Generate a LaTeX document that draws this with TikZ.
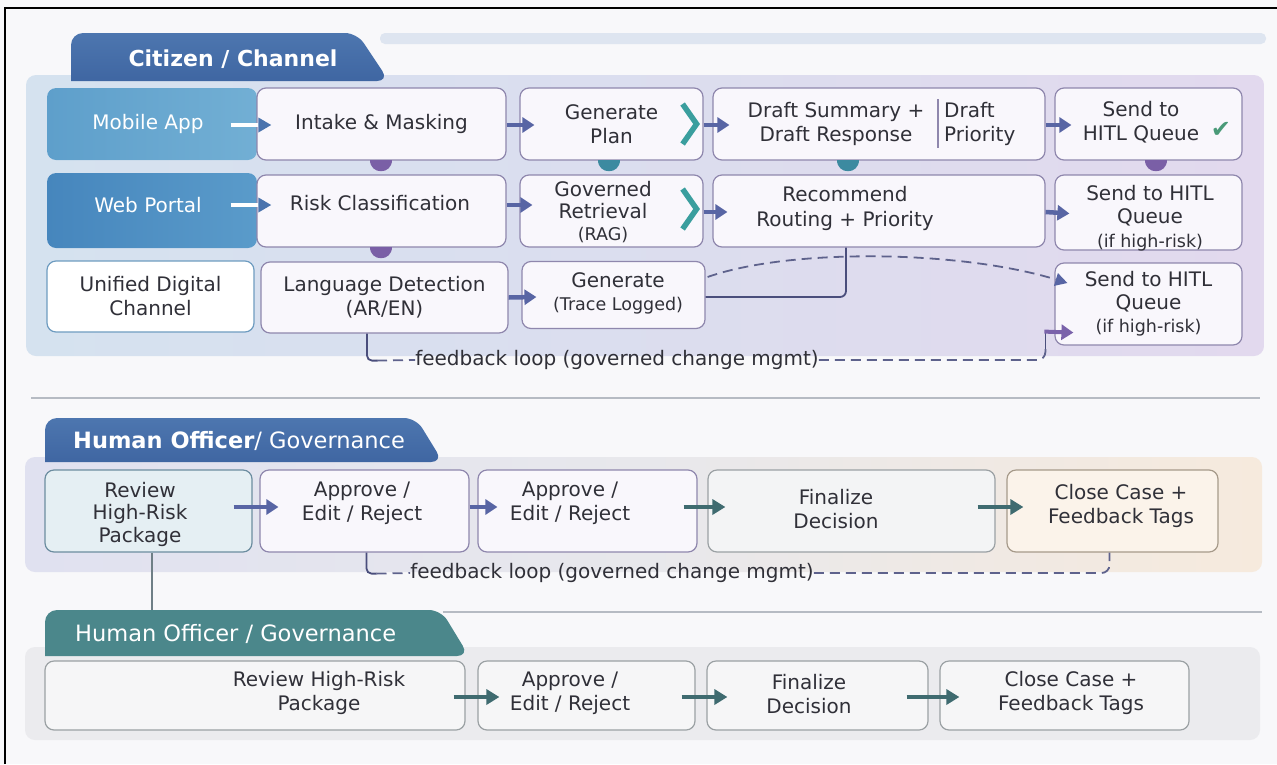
\documentclass[tikz,border=0pt]{standalone}
\usepackage{fontspec}
\setmainfont{DejaVu Sans}
\usetikzlibrary{arrows.meta,calc}
\definecolor{bgc}{HTML}{F8F8FA}
\definecolor{tabA}{HTML}{4D76AF}
\definecolor{tabB}{HTML}{3F66A2}
\definecolor{stripe}{HTML}{DEE5F0}
\definecolor{panAL}{HTML}{D5E2EF}
\definecolor{panAR}{HTML}{E2D9EE}
\definecolor{mobL}{HTML}{5E9FCB}
\definecolor{mobR}{HTML}{72AFD4}
\definecolor{webL}{HTML}{4686BD}
\definecolor{webR}{HTML}{5A9BCA}
\definecolor{boxf}{HTML}{F9F7FC}
\definecolor{boxb}{HTML}{8F87AD}
\definecolor{txt}{HTML}{303038}
\definecolor{arrc}{HTML}{5865A4}
\definecolor{arrb}{HTML}{4A74AE}
\definecolor{chev}{HTML}{3A9E9E}
\definecolor{dotp}{HTML}{7A5FA6}
\definecolor{dott}{HTML}{3C8AA0}
\definecolor{conn}{HTML}{4A4E7C}
\definecolor{dashc}{HTML}{5E628C}
\definecolor{parrc}{HTML}{7A62AA}
\definecolor{chk}{HTML}{4A9A78}
\definecolor{sep}{HTML}{B6BBC3}
\definecolor{panBL}{HTML}{E0E1F0}
\definecolor{panBM}{HTML}{E8E8EC}
\definecolor{panBR}{HTML}{F6EADD}
\definecolor{revf}{HTML}{E5EFF3}
\definecolor{revb}{HTML}{6C8DA0}
\definecolor{finf}{HTML}{F3F4F5}
\definecolor{closef}{HTML}{FBF3EA}
\definecolor{closeb}{HTML}{A69A8A}
\definecolor{tealarr}{HTML}{3F6B70}
\definecolor{tabC}{HTML}{4B878B}
\definecolor{panC}{HTML}{EBEBEE}
\definecolor{boxf3}{HTML}{F6F6F7}
\definecolor{boxb3}{HTML}{9BA1A4}
\definecolor{udcb}{HTML}{6E9CC0}
\definecolor{vline}{HTML}{6F7F86}
\newcommand{\fsz}{\fontsize{20}{24}\selectfont}
\newcommand{\fsm}{\fontsize{17.5}{21}\selectfont}
\newcommand{\fst}{\fontsize{22.5}{26}\selectfont}
\begin{document}
\begin{tikzpicture}[x=1pt,y=-1pt,
  wh/.style 2 args={minimum width=#1pt, minimum height=#2pt},
  bx/.style={draw=boxb, fill=boxf, rounded corners=9pt, line width=1.2pt, inner sep=0pt, align=center, font=\fsz, text=txt},
  tx/.style={inner sep=0pt, align=center, font=\fsz, text=txt},
  arr/.style={draw=arrc, line width=4.5pt, -{Triangle[length=12pt,width=15pt]}},
  arrT/.style={draw=tealarr, line width=4pt, -{Triangle[length=13pt,width=15pt]}},
  parr/.style={draw=parrc, line width=4pt, -{Triangle[length=12pt,width=15pt]}},
  fbs/.style={draw=conn, line width=1.8pt},
  fbd/.style={draw=dashc, line width=1.8pt, dash pattern=on 10pt off 6pt},
  chv/.style={draw=chev, line width=5.5pt, miter limit=4},
  tabtext/.style={inner sep=0pt, text=white, font=\fst}
]
\useasboundingbox (0,0) rectangle (1277,764);
\fill[bgc] (0,0) rectangle (1277,764);
\draw[black, line width=2.5pt] (5,764) -- (5,8) -- (1277,8);

% ================= Section 1 =================
\shade[left color=panAL, right color=panAR, rounded corners=10pt] (26,75) rectangle (1264,356);
\fill[stripe, rounded corners=5pt] (380,33) rectangle (1266,44);
\shade[top color=tabA, bottom color=tabB] (71,81) {[rounded corners=12pt] -- (71,33) -- (357,33) -- (389,81)} -- cycle;
\node[tabtext, font=\bfseries\fontsize{22}{26}\selectfont] (t1) at (233,59) {Citizen / Channel};

% row 1
\node[bx, wh={210}{72}, draw=none, left color=mobL, right color=mobR, text=white] (mob) at (152,124) {Mobile App\hspace*{8pt}};
\node[bx, wh={249}{72}] (intake) at (381.5,124) {Intake \& Masking};
\node[bx, wh={183}{72}] (gplan) at (611.5,124) {Generate\\Plan};
\node[bx, wh={332}{72}] (draft) at (879,124) {};
\node[tx] (draftL) at (836,124) {Draft Summary +\\Draft Response};
\node[tx, align=left, anchor=west] (draftR) at (944,124) {Draft\\Priority};
\draw[draw=boxb, line width=1.2pt] ($(draft.north)+(59,12)$) -- ($(draft.south)+(59,-13)$);
\node[bx, wh={187}{72}] (send1) at (1148.5,124) {};
\node[tx] (send1t) at (1141,122) {Send to\\HITL Queue};
\node[inner sep=0pt, text=chk, font=\fontsize{24}{24}\selectfont] (chk) at (1221,130) {✔};

% row 2
\node[bx, wh={210}{75}, draw=none, left color=webL, right color=webR] (web) at (152,210.5) {};
\node[tx, text=white] (webt) at (148,205) {Web Portal};
\node[bx, wh={249}{72}] (risk) at (381.5,211) {};
\node[tx] (riskt) at (380,203) {Risk Classification};
\node[bx, wh={183}{72}] (gret) at (611.5,211) {};
\node[tx, font=\fontsize{20}{22}\selectfont] (grett) at (603,212) {Governed\\Retrieval\\{\fsm (RAG)}};
\node[bx, wh={332}{72}] (rec) at (879,211) {};
\node[tx, font=\fontsize{20}{25}\selectfont] (rect) at (845,208) {Recommend\\Routing + Priority};
\node[bx, wh={187}{75}] (send2) at (1148.5,212.5) {};
\node[tx, font=\fontsize{20}{23.5}\selectfont] (send2t) at (1150,218) {Send to HITL\\Queue\\{\fsm (if high-risk)}};

% row 3
\node[bx, wh={207}{71}, fill=white, draw=udcb] (udc) at (150.5,296.5) {Unified Digital\\Channel};
\node[bx, wh={247}{71}] (lang) at (384.5,297.5) {Language Detection\\(AR/EN)};
\node[bx, wh={183}{67}] (gen) at (613.5,295) {};
\node[tx, font=\fontsize{20}{23}\selectfont] (gent) at (618,293) {Generate\\{\fsm (Trace Logged)}};
\node[bx, wh={187}{82}, font=\fontsize{20}{23}\selectfont] (send3) at (1148.5,304) {Send to HITL\\Queue\\{\fsm (if high-risk)}};

% chevrons
\draw[chv] ($(gplan.east)+(-21,-20)$) -- ($(gplan.east)+(-7,0)$) -- ($(gplan.east)+(-21,20)$);
\draw[chv] ($(gret.east)+(-21,-22)$) -- ($(gret.east)+(-7,-2)$) -- ($(gret.east)+(-21,18)$);

% drop dots
\fill[dotp] ($(intake.south)+(-12,-1)$) .. controls +(0,15) and +(0,15) .. ($(intake.south)+(10,-1)$) -- cycle;
\fill[dott] ($(gplan.south)+(-14,-1)$) .. controls +(0,15) and +(0,15) .. ($(gplan.south)+(8,-1)$) -- cycle;
\fill[dott] ($(draft.south)+(-42,-1)$) .. controls +(0,15) and +(0,15) .. ($(draft.south)+(-20,-1)$) -- cycle;
\fill[dotp] ($(send1.south)+(-4,-1)$) .. controls +(0,15) and +(0,15) .. ($(send1.south)+(18,-1)$) -- cycle;
\fill[dotp] ($(risk.south)+(-12,-1)$) .. controls +(0,15) and +(0,15) .. ($(risk.south)+(10,-1)$) -- cycle;

% arrows row 1-3
\draw[line width=3.5pt, white, -{Triangle[length=13pt,width=14pt,color=arrb]}] ($(mob.east)+(-27,1)$) -- ($(intake.west)+(15,1)$);
\draw[line width=3.5pt, white, -{Triangle[length=13pt,width=14pt,color=arrb]}] ($(web.east)+(-27,-5.5)$) -- ($(risk.west)+(15,-6)$);
\draw[arr] ($(intake.east)+(0,1)$) -- ($(gplan.west)+(15,1)$);
\draw[arr] ($(gplan.east)+(0,1)$) -- ($(draft.west)+(17,1)$);
\draw[arr] ($(draft.east)+(0,1)$) -- ($(send1.west)+(17,1)$);
\draw[arr] ($(risk.east)+(0,-6)$) -- ($(gret.west)+(13,-6)$);
\draw[arr] ($(gret.east)+(0,1)$) -- ($(rec.west)+(15,1)$);
\draw[arr] ($(rec.east)+(0,1)$) -- ($(send2.west)+(15,1)$);
\draw[arr] ($(lang.east)+(0,0)$) -- ($(gen.west)+(15,2)$);

% gen -> rec connector and dashed curve
\draw[draw=conn, line width=1.8pt, rounded corners=6pt] ($(gen.east)+(0,2)$) -| ($(rec.south)+(-33,0)$);
\draw[fbd, -{Triangle[length=12pt,width=13pt,color=arrc]}] ($(gen.east)+(2,-18)$) .. controls (790,248) and (960,250) .. ($(send3.west)+(13,-21)$);

% feedback loop 1
\coordinate (f1a) at ($(lang.south)+(-7.5,27)$);
\draw[fbs, rounded corners=5pt] ($(lang.south)+(-17.5,0)$) |- (f1a);
\node[tx] (fb1) at (617,360) {feedback loop (governed change mgmt)};
\draw[fbd] (f1a) -- (fb1.west);
\coordinate (f1b) at ($(send3.south west)+(-9,3)$);
\coordinate (f1c) at ($(send3.south west)+(-9,-15)$);
\draw[fbd, rounded corners=8pt] (fb1.east) -| (f1b);
\draw[fbs] (f1b) -- (f1c);
\draw[parr] ($(f1c)+(-1,1)$) -- ($(send3.south west)+(19,-13)$);

% separator
\draw[sep, line width=1.5pt] (31,398) -- (1260,398);

% ================= Section 2 =================
\shade[left color=panBL, right color=panBR, middle color=panBM, rounded corners=10pt] (25,457) rectangle (1262,572);
\shade[top color=tabA, bottom color=tabB] (45,462) {[rounded corners=12pt] -- (45,418) -- (416,418) -- (443,462)} -- cycle;
\node[tabtext, anchor=west] (t2) at (73,441) {\textbf{Human Officer}/ Governance};

\node[bx, wh={207}{82}, fill=revf, draw=revb] (rev2) at (148.5,511) {};
\node[tx, font=\fontsize{20}{22.5}\selectfont] (rev2t) at (140,514) {Review\\High-Risk\\Package};
\node[bx, wh={209}{82}] (app1) at (364.5,511) {};
\node[tx] (app1t) at (362,503) {Approve /\\Edit / Reject};
\node[bx, wh={219}{82}] (app2) at (587.5,511) {};
\node[tx] (app2t) at (570,503) {Approve /\\Edit / Reject};
\node[bx, wh={287}{82}, fill=finf, draw=boxb3] (fin2) at (851.5,511) {};
\node[tx] (fin2t) at (836,509) {Finalize\\Decision};
\node[bx, wh={211}{82}, fill=closef, draw=closeb] (close2) at (1112.5,511) {};
\node[tx] (close2t) at (1121,506) {Close Case +\\Feedback Tags};

\draw[arr] ($(rev2.east)+(-19,-4)$) -- ($(app1.west)+(19,-4)$);
\draw[arr] ($(app1.east)+(0,-4)$) -- ($(app2.west)+(20,-4)$);
\draw[arrT] ($(app2.east)+(-14,-4)$) -- ($(fin2.west)+(18,-4)$);
\draw[arrT] ($(fin2.east)+(-18,-4)$) -- ($(close2.west)+(17,-4)$);

% feedback loop 2
\coordinate (f2a) at ($(app1.south)+(12,21)$);
\draw[fbs, rounded corners=5pt] ($(app1.south)+(2,0)$) |- (f2a);
\node[tx] (fb2) at (612,573) {feedback loop (governed change mgmt)};
\draw[fbd] (f2a) -- (fb2.west);
\draw[fbd, rounded corners=8pt] (fb2.east) -| ($(close2.south)+(-3,0)$);

% link down to section 3 and separator
\coordinate (v3) at ($(rev2.south)+(3.5,60)$);
\draw[draw=vline, line width=1.5pt] ($(rev2.south)+(3.5,0)$) -- (v3);
\draw[sep, line width=1.5pt] (443,612) -- (1262,612);

% ================= Section 3 =================
\fill[panC, rounded corners=10pt] (25,647) rectangle (1260,740);
\fill[tabC] (45,656) {[rounded corners=12pt] -- (45,610) -- (441,610) -- (469,656)} -- cycle;
\node[tabtext, anchor=west] (t3) at (75,634) {Human Officer / Governance};

\node[bx, wh={420}{69}, fill=boxf3, draw=boxb3] (rev3) at (255,695.5) {};
\node[tx] (rev3t) at (319,693) {Review High-Risk\\Package};
\node[bx, wh={217}{69}, fill=boxf3, draw=boxb3] (app3) at (586.5,695.5) {};
\node[tx] (app3t) at (570,693) {Approve /\\Edit / Reject};
\node[bx, wh={221}{69}, fill=boxf3, draw=boxb3] (fin3) at (817.5,695.5) {};
\node[tx] (fin3t) at (809,694) {Finalize\\Decision};
\node[bx, wh={249}{69}, fill=boxf3, draw=boxb3] (close3) at (1064.5,695.5) {};
\node[tx] (close3t) at (1071,693) {Close Case +\\Feedback Tags};

\draw[arrT] ($(rev3.east)+(-12,1.5)$) -- ($(app3.west)+(22,1.5)$);
\draw[arrT] ($(app3.east)+(-14,1.5)$) -- ($(fin3.west)+(21,1.5)$);
\draw[arrT] ($(fin3.east)+(-22,1.5)$) -- ($(close3.west)+(20,1.5)$);
\end{tikzpicture}
\end{document}
